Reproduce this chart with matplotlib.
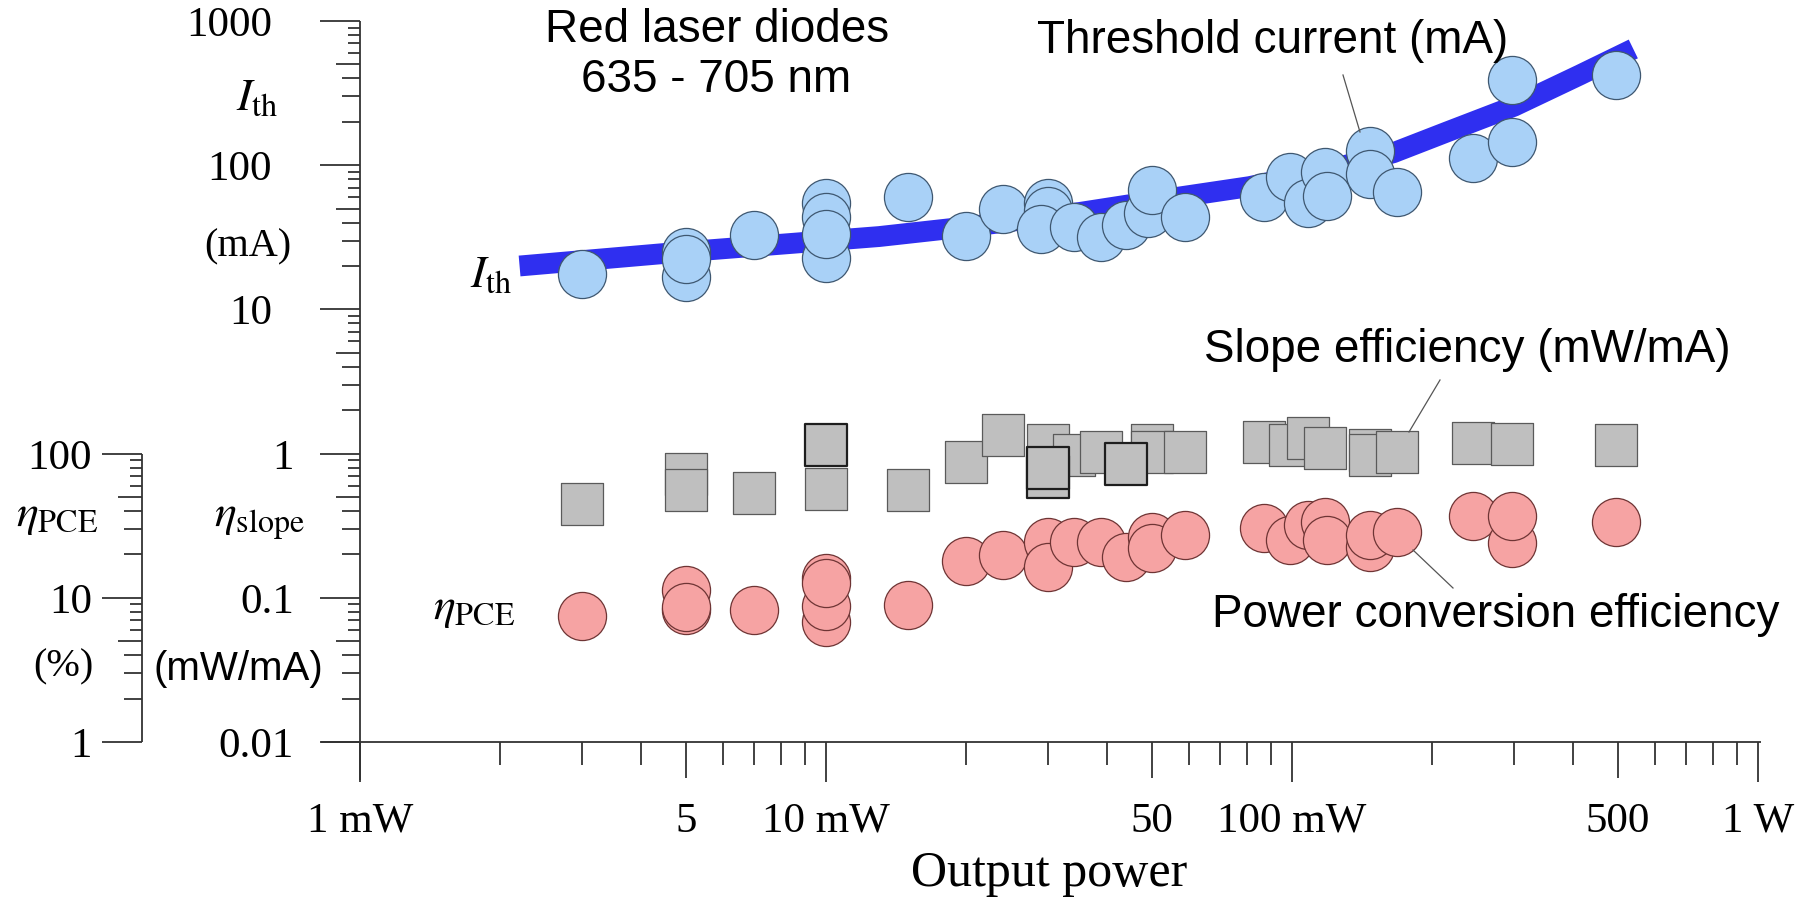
import matplotlib
matplotlib.use("Agg")
import matplotlib.pyplot as plt
from matplotlib.lines import Line2D
from matplotlib.transforms import offset_copy
import numpy as np

W, H = 1816, 900
SERIF = "Liberation Serif"
SANS = "Liberation Sans"
plt.rcParams["mathtext.fontset"] = "stix"

INK = "#333333"
BLUE_LINE = "#2f2ff0"
BLUE_FILL = "#a9d1f7"
BLUE_EDGE = "#3e5770"
PINK_FILL = "#f6a3a3"
PINK_EDGE = "#6e3434"
GRAY_FILL = "#bfbfbf"
GRAY_EDGE = "#5a5a5a"

# threshold current (mA) vs output power (mW)
ith_power = [3, 5, 5, 5, 7, 10, 10, 10, 10, 15, 20, 24, 30, 30, 29, 34, 39, 44, 49, 50,
             59, 87, 99, 108, 118, 119, 147, 147, 168, 245, 297, 297, 496]
ith_ma = [17.6, 16.8, 25, 22.4, 32.8, 54.7, 43.7, 22.7, 33.3, 60.2, 32.3, 49.7, 54.7, 48.1,
          36.1, 37.3, 31.8, 38.5, 46.6, 67.3, 43.7, 60.2, 82.8, 54.7, 89.7, 61.1, 125, 86.9,
          65.2, 112, 145, 390, 422]

# trend line drawn through the threshold data
trend_power = [2.2, 4.9, 13, 21, 35, 57, 81, 120, 165, 215, 300, 415, 540]
trend_ma = [20, 25, 32, 38, 47, 60, 71, 93, 122, 170, 257, 423, 640]

# slope efficiency (mW/mA)
slope_power = [3, 5, 5, 7, 10, 10, 15, 20, 24, 30, 30, 30, 34, 39, 44, 50, 50, 59, 87, 99,
               108, 118, 147, 147, 168, 245, 297, 496]
slope_eff = [0.45, 0.72, 0.56, 0.53, 0.57, 1.15, 0.56, 0.88, 1.35, 1.15, 0.69, 0.79, 0.98,
             1.03, 0.85, 1.15, 1.03, 1.03, 1.20, 1.15, 1.28, 1.09, 1.06, 0.98, 1.03, 1.19,
             1.17, 1.15]
slope_dark = [False, False, False, False, False, True, False, False, False, False, True, True,
              False, False, True, False, False, False, False, False, False, False, False,
              False, False, False, False, False]

# power conversion efficiency (%)
pce_power = [3, 5, 5, 5, 7, 10, 10, 10, 10, 15, 20, 24, 30, 30, 34, 39, 44, 50, 50, 59, 87,
             99, 108, 118, 119, 147, 147, 168, 245, 297, 297, 496]
pce_pct = [7.5, 8.2, 11.3, 8.6, 8.2, 6.8, 8.8, 13.7, 12.7, 8.9, 18.0, 19.8, 24.4, 16.4, 24.4,
           24.4, 19.2, 26.4, 22.2, 27.3, 30.5, 25.2, 32.0, 33.6, 25.2, 22.5, 27.3, 28.6, 36.9,
           24.0, 36.9, 33.6]

x_ticks = [1, 5, 10, 50, 100, 500, 1000]
x_labels = ["1 mW", "5", "10 mW", "50", "100 mW", "500", "1 W"]
ith_ticks = [1000, 100, 10]
ith_labels = ["1000", "100", "10"]
slope_ticks = [1, 0.1, 0.01]
slope_labels = ["1", "0.1", "0.01"]
pce_ticks = [100, 10, 1]
pce_labels = ["100", "10", "1"]

# axes box in pixels: x 1 mW..1 W -> 360..1758, y 0.01..1000 -> 742..21
X0, X1, Y0, Y1 = 360, 1758, 742, 21
fig = plt.figure(figsize=(W / 100, H / 100), dpi=100)
ax = fig.add_axes([X0 / W, 1 - Y0 / H, (X1 - X0) / W, (Y0 - Y1) / H])
ax.set_xscale("log")
ax.set_yscale("log")
ax.set_xlim(1, 1000)
ax.set_ylim(0.01, 1000)
ax.set_axis_off()


def ax_x(px):
    return (px - X0) / (X1 - X0)


def ax_y(py):
    return (Y0 - py) / (Y0 - Y1)


def fig_xy(px, py):
    return px / W, 1 - py / H


ytr = ax.get_yaxis_transform()
xtr = ax.get_xaxis_transform()
line_kw = dict(color=INK, lw=1.3, clip_on=False, solid_capstyle="butt")


def minor_len(k):
    return 24 if k == 5 else (18 if k < 5 else 12)


def vertical_axis(px, lo_dec, hi_dec, y_bottom=None):
    x = ax_x(px)
    if y_bottom is None:
        ax.plot([x, x], [10.0 ** lo_dec, 10.0 ** hi_dec], transform=ytr, **line_kw)
    else:
        ax.plot([x, x], [ax_y(y_bottom), ax_y(Y1)], transform=ax.transAxes, **line_kw)
    for d in range(lo_dec, hi_dec + 1):
        ax.plot([x - 40 / (X1 - X0), x], [10.0 ** d] * 2, transform=ytr, **line_kw)
        if d < hi_dec:
            for k in range(2, 10):
                v = k * 10.0 ** d
                ax.plot([x - minor_len(k) / (X1 - X0), x], [v, v], transform=ytr, **line_kw)


# main axis (I_th above, slope efficiency below) and the PCE axis
vertical_axis(X0, -2, 3, y_bottom=780)
vertical_axis(142, -2, 0)

# x axis
ax.plot([ax_x(321), ax_x(1761)], [0, 0], transform=ax.transAxes, **line_kw)
for d in range(0, 4):
    ax.plot([10.0 ** d] * 2, [0, -40 / (Y0 - Y1)], transform=xtr, **line_kw)
    if d < 3:
        for k in range(2, 10):
            L = 36 if k == 5 else 23
            ax.plot([k * 10.0 ** d] * 2, [0, -L / (Y0 - Y1)], transform=xtr, **line_kw)

# tick labels
lab_tr = offset_copy(ytr, fig=fig, x=0, y=-15, units="dots")
for v, s in zip(ith_ticks, ith_labels):
    ax.text(ax_x(272), v, s, transform=lab_tr, ha="right", va="baseline",
            fontsize=31, family=SERIF)
for v, s in zip(slope_ticks, slope_labels):
    ax.text(ax_x(294), v, s, transform=lab_tr, ha="right", va="baseline",
            fontsize=31, family=SERIF)
for v, s in zip(pce_ticks, pce_labels):
    ax.text(ax_x(92), v / 100, s, transform=lab_tr, ha="right", va="baseline",
            fontsize=31, family=SERIF)
for v, s in zip(x_ticks, x_labels):
    ax.text(v, ax_y(832), s, transform=xtr, ha="center", va="baseline",
            fontsize=31, family=SERIF)

# data
ax.plot(trend_power, trend_ma, color=BLUE_LINE, lw=15, solid_capstyle="butt",
        solid_joinstyle="round", zorder=2)
ax.scatter(ith_power, ith_ma, s=1200, facecolor=BLUE_FILL, edgecolor=BLUE_EDGE,
           linewidth=0.9, zorder=3)

dark = np.array(slope_dark)
sp = np.array(slope_power)
se = np.array(slope_eff)
ax.scatter(sp[~dark], se[~dark], s=940, marker="s", facecolor=GRAY_FILL,
           edgecolor=GRAY_EDGE, linewidth=0.9, zorder=3)
ax.scatter(sp[dark], se[dark], s=940, marker="s", facecolor=GRAY_FILL,
           edgecolor="#1e1e1e", linewidth=1.6, zorder=3)

ax.scatter(pce_power, np.array(pce_pct) / 100, s=1200, facecolor=PINK_FILL,
           edgecolor=PINK_EDGE, linewidth=0.9, zorder=3)

# axis titles
fig.text(*fig_xy(236, 110), r"$I_{\rm th}$", fontsize=33, ha="left", va="baseline")
fig.text(*fig_xy(248, 256), "(mA)", fontsize=29, family=SERIF, ha="center", va="baseline")
fig.text(*fig_xy(214, 526), r"$\eta_{\rm slope}$", fontsize=33, ha="left", va="baseline")
fig.text(*fig_xy(238, 680), "(mW/mA)", fontsize=29, family=SANS, ha="center", va="baseline")
fig.text(*fig_xy(16, 526), r"$\eta_{\rm PCE}$", fontsize=33, ha="left", va="baseline")
fig.text(*fig_xy(63, 676), "(%)", fontsize=29, family=SERIF, ha="center", va="baseline")
fig.text(*fig_xy(1049, 886), "Output power", fontsize=36, family=SERIF, ha="center",
         va="baseline")

# in-plot labels
fig.text(*fig_xy(470, 287), r"$I_{\rm th}$", fontsize=33, ha="left", va="baseline")
fig.text(*fig_xy(433, 619), r"$\eta_{\rm PCE}$", fontsize=33, ha="left", va="baseline")
fig.text(*fig_xy(717, 42), "Red laser diodes", fontsize=33, family=SANS, ha="center",
         va="baseline")
fig.text(*fig_xy(716, 92), "635 - 705 nm", fontsize=33, family=SANS, ha="center",
         va="baseline")
fig.text(*fig_xy(1037, 53), "Threshold current (mA)", fontsize=33, family=SANS,
         ha="left", va="baseline")
fig.text(*fig_xy(1204, 362), "Slope efficiency (mW/mA)", fontsize=33, family=SANS,
         ha="left", va="baseline")
fig.text(*fig_xy(1212, 627), "Power conversion efficiency", fontsize=33, family=SANS,
         ha="left", va="baseline")

# leader lines
for (xa, ya), (xb, yb) in [((1343, 75), (1360, 132)),
                           ((1440, 380), (1409, 432)),
                           ((1413, 550), (1453, 588))]:
    (fxa, fya), (fxb, fyb) = fig_xy(xa, ya), fig_xy(xb, yb)
    fig.add_artist(Line2D([fxa, fxb], [fya, fyb], transform=fig.transFigure,
                          color="#555555", lw=0.9, zorder=5))

fig.savefig("out.png", dpi=100, facecolor="white")
